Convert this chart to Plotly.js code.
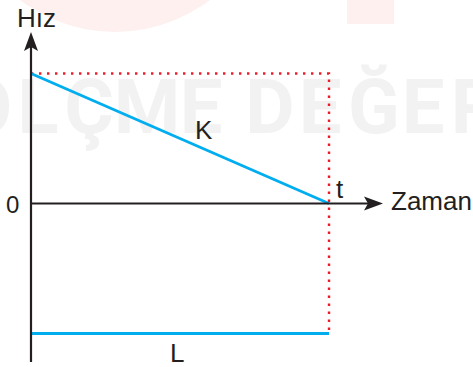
<!DOCTYPE html>
<html><head><meta charset="utf-8">
<script src="https://cdn.plot.ly/plotly-3.0.1.min.js"></script>
<style>html,body{margin:0;padding:0;background:#fff}</style>
</head><body><div id="c" style="width:473px;height:367px"></div>
<script>
// ---- data ----
const times = [0, 1];          // 0 .. t
const velK = [1, 0];           // K: decreasing to zero at t
const velL = [-1, -1];         // L: constant negative
const axisLabels = {y: 'Hız', x: 'Zaman', zero: '0', t: 't'};
const seriesNames = ['K', 'L'];
const watermarkLetters = ['Ö','L','Ç','M','E','D','E','Ğ','E','R'];

// ---- geometry (pixel helpers) ----
const W = 473, H = 367;
const X0PX = 31, XSCALE = 298, Y0PX = 203.5, YSCALE = 130;
const dx = px => (px - X0PX) / XSCALE;
const dy = py => (Y0PX - py) / YSCALE;
const pxp = px => px / W;
const pyp = py => 1 - py / H;
const wmCenters = [-14, 38, 89, 147, 201, 270, 320, 374, 423, 475];
const WM_Y = 114;

const ink = '#231F20', blue = '#00AEEF', red = '#ED1C24';
const tEnd = times[times.length - 1];

const traces = [
  { // watermark
    type: 'scatter', mode: 'text', hoverinfo: 'skip',
    x: wmCenters.map(dx), y: wmCenters.map(() => dy(WM_Y)),
    text: watermarkLetters, textposition: 'middle center',
    textfont: {family: 'Roboto', size: 76, color: '#f2f2f2', weight: 700}
  },
  { // dotted guide lines
    type: 'scatter', mode: 'lines', hoverinfo: 'skip',
    x: [times[0], tEnd, tEnd], y: [velK[0], velK[0], velL[velL.length - 1]],
    line: {color: red, width: 2.4, dash: '2.4px,5.6px'}
  },
  {
    type: 'scatter', mode: 'lines', name: seriesNames[0],
    x: times, y: velK, line: {color: blue, width: 2.8}
  },
  {
    type: 'scatter', mode: 'lines', name: seriesNames[1],
    x: times, y: velL, line: {color: blue, width: 2.8}
  }
];

const font = {family: 'Liberation Sans, Arial, sans-serif', size: 26, color: ink};
function lbl(text, px, py, xanchor, size) {
  return {text: text, xref: 'paper', yref: 'paper', x: pxp(px), y: pyp(py),
    xanchor: xanchor || 'center', yanchor: 'middle', showarrow: false,
    font: Object.assign({}, font, size ? {size: size} : {})};
}

const layout = {
  width: W, height: H, margin: {l: 0, r: 0, t: 0, b: 0},
  paper_bgcolor: '#fff', plot_bgcolor: '#fff', showlegend: false,
  xaxis: {range: [dx(0), dx(W)], visible: false, fixedrange: true},
  yaxis: {range: [dy(H), dy(0)], visible: false, fixedrange: true},
  shapes: [
    {type: 'circle', xref: 'paper', yref: 'paper', layer: 'below',
     x0: pxp(115 - 157), x1: pxp(115 + 157), y0: pyp(-125 - 157), y1: pyp(32),
     fillcolor: '#fdf0ef', line: {width: 0}},
    {type: 'rect', xref: 'paper', yref: 'paper', layer: 'below',
     x0: pxp(347), x1: pxp(394), y0: pyp(0), y1: pyp(24),
     fillcolor: '#fdf0ef', line: {width: 0}},
    // y axis
    {type: 'line', xref: 'x', yref: 'y', x0: 0, x1: 0, y0: dy(362), y1: dy(46),
     line: {color: ink, width: 2.2}},
    // x axis
    {type: 'line', xref: 'x', yref: 'y', x0: 0, x1: dx(368), y0: 0, y1: 0,
     line: {color: ink, width: 2.2}},
    // arrowheads
    {type: 'path', xref: 'x', yref: 'y', xsizemode: 'pixel', ysizemode: 'pixel',
     xanchor: 0, yanchor: dy(32), path: 'M0,0L-7,-19L0,-15L7,-19Z',
     fillcolor: ink, line: {width: 0}},
    {type: 'path', xref: 'x', yref: 'y', xsizemode: 'pixel', ysizemode: 'pixel',
     xanchor: dx(383), yanchor: 0, path: 'M0,0L-19,7L-15,0L-19,-7Z',
     fillcolor: ink, line: {width: 0}}
  ],
  annotations: [
    lbl(axisLabels.y, 36, 18),
    lbl(axisLabels.x, 389, 201, 'left'),
    lbl(axisLabels.zero, 12, 204, 'center', 24),
    lbl(axisLabels.t, 340, 189),
    lbl(seriesNames[0], 204, 130),
    lbl(seriesNames[1], 177, 353)
  ]
};

Plotly.newPlot('c', traces, layout, {staticPlot: true, displayModeBar: false});
</script></body></html>
